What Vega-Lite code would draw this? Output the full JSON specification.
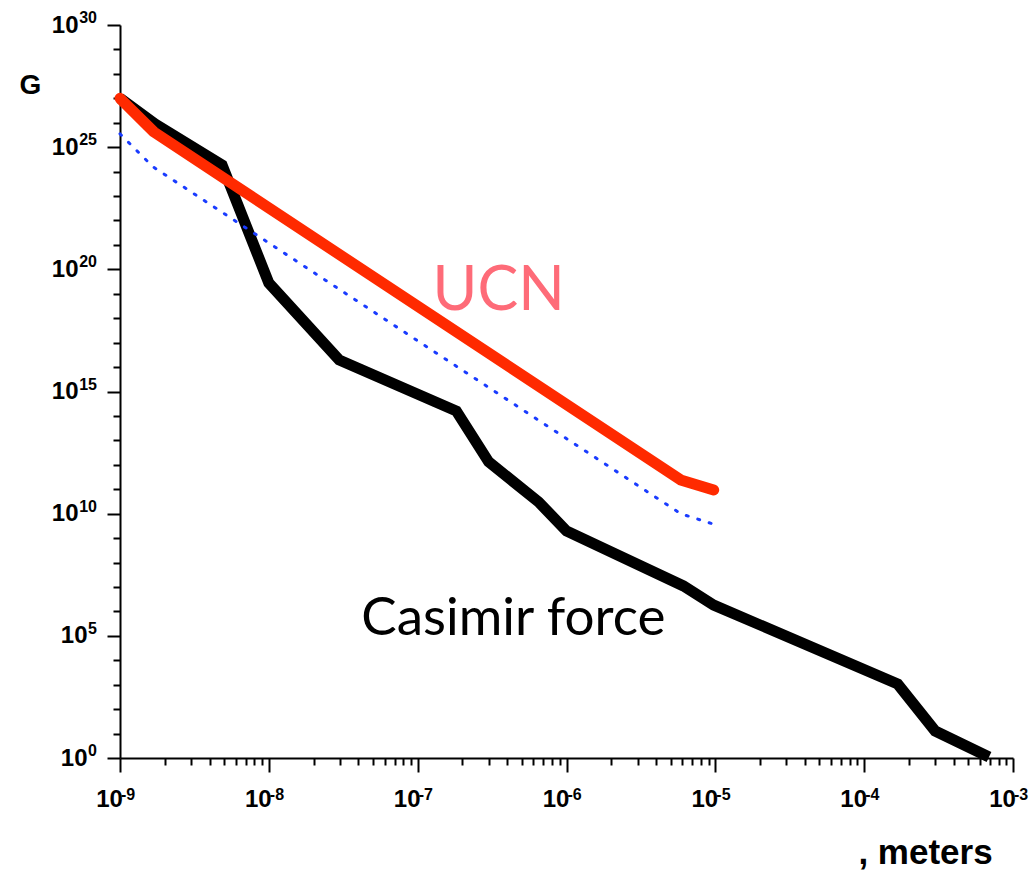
{
  "$schema": "https://vega.github.io/schema/vega-lite/v6.json",
  "width": 893,
  "height": 733,
  "autosize": {"type": "none"},
  "padding": {"left": 120, "top": 25, "right": 22, "bottom": 114},
  "background": "white",
  "config": {
    "view": {"stroke": null},
    "axis": {
      "grid": false,
      "domainColor": "black",
      "domainWidth": 2,
      "tickColor": "black",
      "tickWidth": 2,
      "labelFont": "Liberation Sans",
      "labelFontSize": 24,
      "labelFontWeight": "bold",
      "labelColor": "black",
      "titleFont": "Liberation Sans",
      "titleColor": "black",
      "titleFontWeight": "bold"
    }
  },
  "datasets": {
    "lines": [
      {"s": "casimir", "i": 0, "x": 1e-9, "y": 1e27},
      {"s": "casimir", "i": 1, "x": 1.72e-9, "y": 8.9e25},
      {"s": "casimir", "i": 2, "x": 4.85e-9, "y": 1.86e24},
      {"s": "casimir", "i": 3, "x": 1e-8, "y": 2.75e19},
      {"s": "casimir", "i": 4, "x": 2.97e-8, "y": 1.95e16},
      {"s": "casimir", "i": 5, "x": 1.82e-7, "y": 1.58e14},
      {"s": "casimir", "i": 6, "x": 3e-7, "y": 1.32e12},
      {"s": "casimir", "i": 7, "x": 6.5e-7, "y": 3.0e10},
      {"s": "casimir", "i": 8, "x": 1e-6, "y": 1.95e9},
      {"s": "casimir", "i": 9, "x": 6.1e-6, "y": 1.1e7},
      {"s": "casimir", "i": 10, "x": 9.75e-6, "y": 1.82e6},
      {"s": "casimir", "i": 11, "x": 1.68e-4, "y": 1070},
      {"s": "casimir", "i": 12, "x": 3e-4, "y": 12.7},
      {"s": "casimir", "i": 13, "x": 6.9e-4, "y": 1.1},
      {"s": "ucn", "i": 0, "x": 1e-9, "y": 1e27},
      {"s": "ucn", "i": 1, "x": 1.69e-9, "y": 4.17e25},
      {"s": "ucn", "i": 2, "x": 5.85e-6, "y": 2.4e11},
      {"s": "ucn", "i": 3, "x": 9.75e-6, "y": 9.3e10},
      {"s": "dotted", "i": 0, "x": 1e-9, "y": 3.5e25},
      {"s": "dotted", "i": 1, "x": 1.67e-9, "y": 1.55e24},
      {"s": "dotted", "i": 2, "x": 5.85e-6, "y": 1e10},
      {"s": "dotted", "i": 3, "x": 9.6e-6, "y": 3.8e9}
    ],
    "xexp": [
      {"v": 1e-9, "e": "-9"}, {"v": 1e-8, "e": "-8"}, {"v": 1e-7, "e": "-7"},
      {"v": 1e-6, "e": "-6"}, {"v": 1e-5, "e": "-5"}, {"v": 1e-4, "e": "-4"},
      {"v": 1e-3, "e": "-3"}
    ],
    "yexp": [
      {"v": 1, "e": "0"}, {"v": 1e5, "e": "5"}, {"v": 1e10, "e": "10"},
      {"v": 1e15, "e": "15"}, {"v": 1e20, "e": "20"}, {"v": 1e25, "e": "25"},
      {"v": 1e30, "e": "30"}
    ]
  },
  "layer": [
    {
      "data": {"name": "lines"},
      "transform": [{"filter": "datum.s == 'casimir'"}],
      "mark": {"type": "line", "color": "black", "strokeWidth": 11, "strokeJoin": "miter", "strokeCap": "butt"},
      "encoding": {
        "x": {
          "field": "x", "type": "quantitative",
          "scale": {"type": "log", "domain": [1e-9, 1e-3], "nice": false},
          "axis": {
            "values": [1e-9, 2e-9, 3e-9, 4e-9, 5e-9, 6e-9, 7e-9, 8e-9, 9e-9,
                       1e-8, 2e-8, 3e-8, 4e-8, 5e-8, 6e-8, 7e-8, 8e-8, 9e-8,
                       1e-7, 2e-7, 3e-7, 4e-7, 5e-7, 6e-7, 7e-7, 8e-7, 9e-7,
                       1e-6, 2e-6, 3e-6, 4e-6, 5e-6, 6e-6, 7e-6, 8e-6, 9e-6,
                       1e-5, 2e-5, 3e-5, 4e-5, 5e-5, 6e-5, 7e-5, 8e-5, 9e-5,
                       1e-4, 2e-4, 3e-4, 4e-4, 5e-4, 6e-4, 7e-4, 8e-4, 9e-4, 1e-3],
            "tickSize": {"condition": {"test": "abs(log(datum.value)/LN10 - round(log(datum.value)/LN10)) < 0.01", "value": 14}, "value": 7},
            "labelPadding": 15,
            "labelOffset": -11,
            "labelFlush": false,
            "labelOverlap": false,
            "labelFontSize": 24,
            "labelExpr": "abs(log(datum.value)/LN10 - round(log(datum.value)/LN10)) < 0.01 ? '10' : ''",
            "title": ", meters",
            "titleFontSize": 35,
            "titleX": 805,
            "titleY": 105,
            "titleAlign": "center",
            "titleBaseline": "alphabetic"
          }
        },
        "y": {
          "field": "y", "type": "quantitative",
          "scale": {"type": "log", "domain": [1, 1e30], "nice": false},
          "axis": {
            "values": [1, 1e1, 1e2, 1e3, 1e4, 1e5, 1e6, 1e7, 1e8, 1e9, 1e10, 1e11, 1e12, 1e13, 1e14, 1e15, 1e16, 1e17, 1e18, 1e19, 1e20, 1e21, 1e22, 1e23, 1e24, 1e25, 1e26, 1e27, 1e28, 1e29, 1e30],
            "tickSize": {"condition": {"test": "round(log(datum.value)/LN10) % 5 == 0", "value": 13}, "value": 7},
            "labelPadding": {"condition": {"test": "datum.value >= 1e10", "value": 29}, "value": 20},
            "labelFlush": false,
            "labelOverlap": false,
            "labelFontSize": 24,
            "labelExpr": "round(log(datum.value)/LN10) % 5 == 0 ? '10' : ''",
            "title": "G",
            "titleAngle": 0,
            "titleFontSize": 28,
            "titleX": -90,
            "titleY": 60,
            "titleAlign": "center",
            "titleBaseline": "middle"
          }
        },
        "order": {"field": "i", "type": "quantitative"}
      }
    },
    {
      "data": {"name": "lines"},
      "transform": [{"filter": "datum.s == 'dotted'"}],
      "mark": {"type": "line", "color": "#1a3cff", "strokeWidth": 3, "strokeDash": [2, 10], "strokeCap": "round"},
      "encoding": {
        "x": {"field": "x", "type": "quantitative"},
        "y": {"field": "y", "type": "quantitative"},
        "order": {"field": "i", "type": "quantitative"}
      }
    },
    {
      "data": {"name": "lines"},
      "transform": [{"filter": "datum.s == 'ucn'"}],
      "mark": {"type": "line", "color": "#ff2a00", "strokeWidth": 11, "strokeCap": "round", "strokeJoin": "round"},
      "encoding": {
        "x": {"field": "x", "type": "quantitative"},
        "y": {"field": "y", "type": "quantitative"},
        "order": {"field": "i", "type": "quantitative"}
      }
    },
    {
      "data": {"name": "xexp"},
      "mark": {"type": "text", "font": "Liberation Sans", "fontWeight": "bold", "fontSize": 16, "align": "left", "baseline": "alphabetic", "dx": 1, "dy": 42, "color": "black"},
      "encoding": {
        "x": {"field": "v", "type": "quantitative"},
        "y": {"datum": 1, "type": "quantitative"},
        "text": {"field": "e"}
      }
    },
    {
      "data": {"name": "yexp"},
      "mark": {"type": "text", "font": "Liberation Sans", "fontWeight": "bold", "fontSize": 16, "align": "right", "baseline": "alphabetic", "dx": -23, "dy": -2, "color": "black"},
      "encoding": {
        "x": {"datum": 1e-9, "type": "quantitative"},
        "y": {"field": "v", "type": "quantitative"},
        "text": {"field": "e"}
      }
    },
    {
      "data": {"values": [
        {"label": "UCN", "x": 3.5e-7, "y": 1.2e19, "c": "ucn"},
        {"label": "Casimir force", "x": 4.4e-7, "y": 5.0e5, "c": "casimir"}
      ]},
      "mark": {"type": "text", "font": "Lato", "align": "center", "baseline": "middle"},
      "encoding": {
        "x": {"field": "x", "type": "quantitative"},
        "y": {"field": "y", "type": "quantitative"},
        "text": {"field": "label"},
        "color": {"field": "c", "type": "nominal", "scale": {"domain": ["ucn", "casimir"], "range": ["#fe6b78", "#000000"]}, "legend": null},
        "size": {"field": "c", "type": "nominal", "scale": {"domain": ["ucn", "casimir"], "range": [61, 53]}, "legend": null}
      }
    }
  ]
}
